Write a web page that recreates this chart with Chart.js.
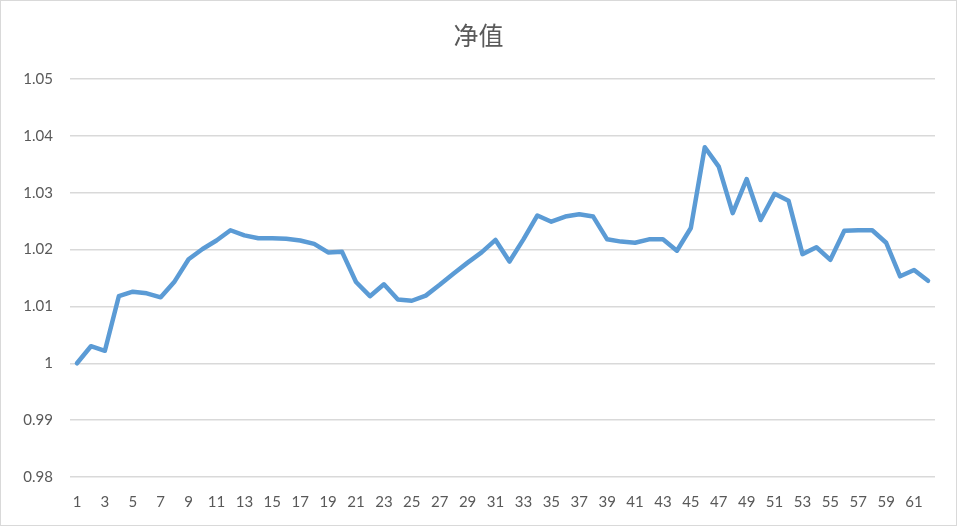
<!DOCTYPE html>
<html>
<head>
<meta charset="utf-8">
<script src="https://cdn.jsdelivr.net/npm/chart.js@4"></script>
<style>
  html, body { margin: 0; padding: 0; background: #fff; }
  #box { width: 957px; height: 526px; box-sizing: border-box; border: 1px solid #d9d9d9; }
</style>
</head>
<body>
<div id="box"><canvas id="grafico"></canvas></div>
<script>
const tituloGrafico = "净值";
const dias = Array.from({ length: 62 }, (_, i) => String(i + 1));
const valores = [
  1.0000, 1.0030, 1.0022, 1.0118, 1.0126, 1.0123, 1.0116, 1.0144, 1.0183, 1.0201,
  1.0216, 1.0234, 1.0225, 1.0220, 1.0220, 1.0219, 1.0216, 1.0210, 1.0195, 1.0196,
  1.0143, 1.0118, 1.0139, 1.0112, 1.0110, 1.0119, 1.0138, 1.0158, 1.0177, 1.0195,
  1.0217, 1.0179, 1.0218, 1.0260, 1.0249, 1.0258, 1.0262, 1.0258, 1.0218, 1.0214,
  1.0212, 1.0218, 1.0218, 1.0198, 1.0238, 1.0380, 1.0346, 1.0264, 1.0324, 1.0252,
  1.0298, 1.0286, 1.0192, 1.0204, 1.0182, 1.0233, 1.0234, 1.0234, 1.0212, 1.0153,
  1.0164, 1.0145
];
const yMin = 0.98;
const yMax = 1.05;
const yPaso = 0.01;

const ctx = document.getElementById("grafico").getContext("2d");
const gris = "#595959";

new Chart(ctx, {
  type: "line",
  data: {
    labels: dias,
    datasets: [{
      label: tituloGrafico,
      data: valores,
      borderColor: "#5b9bd5",
      borderWidth: 4.5,
      borderJoinStyle: "round",
      borderCapStyle: "round",
      pointRadius: 0,
      fill: false,
      tension: 0
    }]
  },
  options: {
    responsive: true,
    maintainAspectRatio: false,
    animation: false,
    layout: { padding: 0 },
    plugins: {
      legend: { display: false },
      tooltip: { enabled: false },
      title: {
        display: true,
        text: tituloGrafico,
        color: gris,
        font: { family: "'Noto Sans CJK SC'", size: 25, weight: "normal" },
        padding: { top: 19, bottom: 29 }
      }
    },
    scales: {
      x: {
        offset: true,
        grid: { display: false, drawTicks: false },
        border: { display: false },
        ticks: {
          autoSkip: false,
          maxRotation: 0,
          padding: 16,
          color: gris,
          font: { family: "Lato", size: 15 },
          callback: (v, i) => (i % 2 === 0 ? dias[i] : "")
        },
        afterFit: s => { s.height = 48; }
      },
      y: {
        min: yMin,
        max: yMax,
        grid: { color: "#d9d9d9", lineWidth: 1.5, drawTicks: false },
        border: { display: false },
        ticks: {
          stepSize: yPaso,
          padding: 17,
          color: gris,
          font: { family: "Lato", size: 15 },
          callback: v => String(Math.round(v * 100) / 100)
        },
        afterFit: s => { s.width = 69; }
      },
      // eje vacío solo para dejar margen a la derecha
      margenDer: {
        position: "right",
        min: yMin,
        max: yMax,
        grid: { display: false, drawTicks: false },
        border: { display: false },
        ticks: { display: false },
        afterFit: s => { s.width = 21; }
      }
    }
  }
});
</script>
</body>
</html>
